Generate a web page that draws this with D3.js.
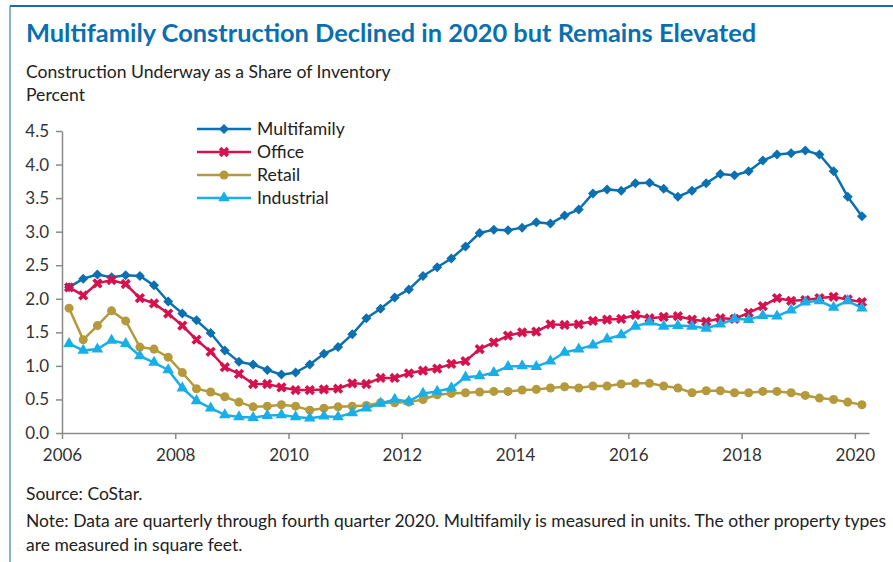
<!DOCTYPE html>
<html>
<head>
<meta charset="utf-8">
<script src="https://cdn.jsdelivr.net/npm/d3@7"></script>
<style>
  body { margin: 0; background: #fff; }
  svg { display: block; font-family: Lato, "Noto Sans", sans-serif; }
</style>
</head>
<body>
<svg id="chart" width="893" height="562"></svg>
<script>
// Quarterly values, first quarter shown just after the 2006 tick
const firstQuarter = 2006.125;

const multifamily = [
  2.17, 2.30, 2.36, 2.32, 2.35, 2.34, 2.20, 1.96, 1.78, 1.68,
  1.49, 1.23, 1.06, 1.02, 0.94, 0.87, 0.90, 1.02, 1.18, 1.28,
  1.47, 1.71, 1.85, 2.02, 2.14, 2.34, 2.47, 2.60, 2.78, 2.98,
  3.03, 3.02, 3.06, 3.14, 3.12, 3.24, 3.33, 3.57, 3.63, 3.61,
  3.72, 3.73, 3.64, 3.52, 3.61, 3.72, 3.86, 3.84, 3.90, 4.06,
  4.15, 4.17, 4.21, 4.15, 3.90, 3.52, 3.23
];
const office = [
  2.17, 2.05, 2.23, 2.28, 2.22, 2.01, 1.93, 1.78, 1.60, 1.39,
  1.21, 0.98, 0.88, 0.73, 0.73, 0.68, 0.64, 0.64, 0.65, 0.66,
  0.74, 0.73, 0.82, 0.82, 0.89, 0.93, 0.96, 1.03, 1.07, 1.25,
  1.35, 1.45, 1.50, 1.51, 1.62, 1.61, 1.62, 1.67, 1.69, 1.70,
  1.76, 1.71, 1.73, 1.74, 1.69, 1.66, 1.71, 1.70, 1.79, 1.89,
  2.01, 1.97, 1.98, 2.01, 2.03, 1.99, 1.95
];
const retail = [
  1.86, 1.39, 1.60, 1.82, 1.67, 1.28, 1.25, 1.13, 0.90, 0.66,
  0.61, 0.54, 0.46, 0.39, 0.40, 0.42, 0.40, 0.34, 0.37, 0.39,
  0.40, 0.41, 0.45, 0.45, 0.46, 0.50, 0.57, 0.59, 0.60, 0.61,
  0.62, 0.62, 0.64, 0.65, 0.67, 0.69, 0.67, 0.70, 0.70, 0.73,
  0.74, 0.74, 0.70, 0.67, 0.60, 0.63, 0.63, 0.60, 0.60, 0.62,
  0.62, 0.60, 0.56, 0.52, 0.50, 0.46, 0.42
];
const industrial = [
  1.33, 1.23, 1.25, 1.38, 1.33, 1.15, 1.05, 0.94, 0.67, 0.48,
  0.37, 0.27, 0.24, 0.23, 0.26, 0.27, 0.24, 0.22, 0.25, 0.24,
  0.30, 0.37, 0.44, 0.50, 0.47, 0.59, 0.62, 0.67, 0.83, 0.85,
  0.90, 0.99, 1.00, 0.99, 1.07, 1.20, 1.25, 1.31, 1.40, 1.46,
  1.59, 1.65, 1.59, 1.60, 1.59, 1.56, 1.62, 1.70, 1.69, 1.75,
  1.74, 1.83, 1.95, 1.97, 1.87, 1.97, 1.86
];

const seriesNames = ['Multifamily', 'Office', 'Retail', 'Industrial'];
const seriesValues = [multifamily, office, retail, industrial];
const xTicks = [2006, 2008, 2010, 2012, 2014, 2016, 2018, 2020];
const yTicks = [0, 0.5, 1, 1.5, 2, 2.5, 3, 3.5, 4, 4.5];

const colors = ['#0b70b0', '#d3124e', '#b49a3c', '#18aee8'];
const symbols = [d3.symbolSquare, d3.symbolCross, d3.symbolCircle, d3.symbolTriangle];
const symbolSizes = [50, 66, 64, 58];
const symbolRotate = [45, 45, 0, 0];

const svg = d3.select('#chart');

// Frame lines
svg.append('line').attr('x1', 10).attr('x2', 893).attr('y1', 6).attr('y2', 6)
  .attr('stroke', '#1d6aa5').attr('stroke-width', 2);
svg.append('line').attr('x1', 10).attr('x2', 10).attr('y1', 6).attr('y2', 562)
  .attr('stroke', '#3a7fb5').attr('stroke-width', 1.2);

// Titles
svg.append('text').attr('x', 26).attr('y', 42)
  .attr('fill', '#0a6fb0').attr('font-size', 25.4).attr('font-weight', 700)
  .text('Multifamily Construction Declined in 2020 but Remains Elevated');
svg.append('text').attr('x', 26).attr('y', 78)
  .attr('fill', '#222').attr('font-size', 17.6)
  .text('Construction Underway as a Share of Inventory');
svg.append('text').attr('x', 26).attr('y', 101)
  .attr('fill', '#222').attr('font-size', 17.6)
  .text('Percent');

// Scales
const x = d3.scaleLinear().domain([2006, 2020.25]).range([62, 869]);
const y = d3.scaleLinear().domain([0, 4.5]).range([433, 131]);

// Axes
const xAxis = svg.append('g').attr('transform', 'translate(0,433)')
  .call(d3.axisBottom(x).tickValues(xTicks).tickFormat(d3.format('d')).tickSize(6).tickSizeOuter(0).tickPadding(10));
const yAxis = svg.append('g').attr('transform', 'translate(62,0)')
  .call(d3.axisLeft(y).tickValues(yTicks).tickFormat(d3.format('.1f')).tickSize(6).tickSizeOuter(0).tickPadding(7));

[xAxis, yAxis].forEach(ax => {
  ax.select('.domain').attr('stroke', '#8a8a8a').attr('stroke-width', 1.5);
  ax.selectAll('.tick line').attr('stroke', '#8a8a8a').attr('stroke-width', 1.5);
  ax.selectAll('.tick text').attr('fill', '#333').attr('font-size', 17)
    .attr('font-family', 'Lato, "Noto Sans", sans-serif');
});

// Series lines and markers
const line = d3.line()
  .x((d, i) => x(firstQuarter + i * 0.25))
  .y(d => y(d));

seriesValues.forEach((vals, s) => {
  const g = svg.append('g');
  g.append('path').datum(vals)
    .attr('fill', 'none').attr('stroke', colors[s]).attr('stroke-width', 2.5)
    .attr('d', line);
  g.selectAll('path.mark').data(vals).join('path')
    .attr('class', 'mark')
    .attr('d', d3.symbol().type(symbols[s]).size(symbolSizes[s]))
    .attr('fill', colors[s])
    .attr('transform', (d, i) => `translate(${x(firstQuarter + i * 0.25)},${y(d)}) rotate(${symbolRotate[s]})`);
});

// Legend
const legend = svg.append('g');
seriesNames.forEach((name, s) => {
  const ly = 129 + s * 23;
  legend.append('line').attr('x1', 197).attr('x2', 251).attr('y1', ly).attr('y2', ly)
    .attr('stroke', colors[s]).attr('stroke-width', 2.5);
  legend.append('path')
    .attr('d', d3.symbol().type(symbols[s]).size(symbolSizes[s]))
    .attr('fill', colors[s])
    .attr('transform', `translate(224,${ly}) rotate(${symbolRotate[s]})`);
  legend.append('text').attr('x', 257).attr('y', ly + 6)
    .attr('fill', '#222').attr('font-size', 17.6).text(name);
});

// Notes
svg.append('text').attr('x', 26).attr('y', 500).attr('fill', '#222').attr('font-size', 17.5)
  .text('Source: CoStar.');
svg.append('text').attr('x', 26).attr('y', 527).attr('fill', '#222').attr('font-size', 17.5)
  .text('Note: Data are quarterly through fourth quarter 2020. Multifamily is measured in units. The other property types');
svg.append('text').attr('x', 26).attr('y', 551).attr('fill', '#222').attr('font-size', 17.5)
  .text('are measured in square feet.');
</script>
</body>
</html>
